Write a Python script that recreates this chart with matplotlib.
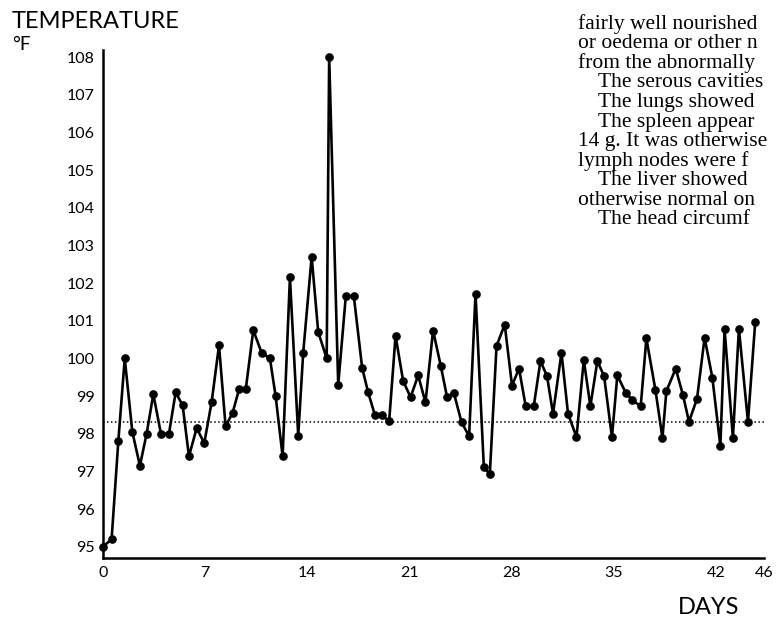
import matplotlib
matplotlib.use("Agg")
import matplotlib.pyplot as plt

# --- data ---
days = [0.0, 0.59, 1.05, 1.49, 2.01, 2.53, 2.99, 3.45, 3.97, 4.52,
        4.98, 5.46, 5.89, 6.42, 6.94, 7.45, 7.95, 8.40, 8.88, 9.34,
        9.79, 10.30, 10.87, 11.44, 11.83, 12.31, 12.81, 13.38, 13.72, 14.30,
        14.75, 15.33, 15.50, 16.12, 16.64, 17.19, 17.76, 18.17, 18.63, 19.09,
        19.61, 20.05, 20.57, 21.08, 21.60, 22.10, 22.62, 23.15, 23.58, 24.04,
        24.57, 25.09, 25.53, 26.10, 26.51, 26.97, 27.53, 28.03, 28.51, 28.97,
        29.52, 29.98, 30.43, 30.84, 31.42, 31.87, 32.45, 32.95, 33.40, 33.88,
        34.34, 34.88, 35.25, 35.82, 36.28, 36.85, 37.24, 37.86, 38.34, 38.61,
        39.25, 39.75, 40.16, 40.71, 41.23, 41.76, 42.31, 42.60, 43.17, 43.58,
        44.20, 44.70]
temps = [95.0, 95.2, 97.8, 100.0, 98.05, 97.15, 98.0, 99.05, 98.0, 98.0,
         99.1, 98.75, 97.4, 98.15, 97.75, 98.85, 100.35, 98.2, 98.55, 99.2,
         99.2, 100.75, 100.15, 100.0, 99.0, 97.4, 102.15, 97.95, 100.15, 102.7,
         100.7, 100.0, 108.0, 99.3, 101.65, 101.65, 99.75, 99.1, 98.5, 98.5,
         98.33, 100.6, 99.4, 98.97, 99.55, 98.83, 100.74, 99.8, 98.97, 99.09,
         98.31, 97.93, 101.72, 97.11, 96.93, 100.33, 100.9, 99.28, 99.73, 98.73,
         98.73, 99.93, 99.53, 98.53, 100.15, 98.53, 97.91, 99.96, 98.73, 99.93,
         99.53, 97.91, 99.55, 99.09, 98.89, 98.73, 100.53, 99.16, 97.89, 99.13,
         99.73, 99.02, 98.32, 98.93, 100.55, 99.49, 97.67, 100.77, 97.89, 100.79,
         98.32, 100.97]
normal_temp = 98.3
y_ticks = [95, 96, 97, 98, 99, 100, 101, 102, 103, 104, 105, 106, 107, 108]
x_ticks = [0, 7, 14, 21, 28, 35, 42, 45.3]
x_tick_labels = ["0", "7", "14", "21", "28", "35", "42", "46"]

side_text = [
    ("fairly well nourished", 0),
    ("or oedema or other n", 0),
    ("from the abnormally", 0),
    ("The serous cavities", 1),
    ("The lungs showed", 1),
    ("The spleen appear", 1),
    ("14 g. It was otherwise", 0),
    ("lymph nodes were f", 0),
    ("The liver showed", 1),
    ("otherwise normal on", 0),
    ("The head circumf", 1),
]

W, H = 776, 617
fig = plt.figure(figsize=(W / 100, H / 100), dpi=100)
ax = fig.add_axes([103 / W, 1 - 558 / H, (764 - 103) / W, (558 - 50) / H])

ax.plot(days, temps, color="black", lw=1.9, marker="o", markersize=5.2,
        markerfacecolor="black", markeredgecolor="black", clip_on=False, zorder=3)
ax.axhline(normal_temp, color="black", lw=1.1, linestyle=(0, (1, 1.6)), zorder=2)

ax.set_xlim(0, 45.3)
ax.set_ylim(94.7, 108.19)
ax.set_yticks(y_ticks)
ax.set_yticklabels([str(v) for v in y_ticks])
ax.set_xticks(x_ticks)
ax.set_xticklabels(x_tick_labels)
ax.tick_params(axis="both", length=0, labelsize=11.5)
ax.tick_params(axis="y", pad=6)
ax.tick_params(axis="x", pad=6)
for lab in ax.get_xticklabels() + ax.get_yticklabels():
    lab.set_family("Lato")
for s in ["top", "right"]:
    ax.spines[s].set_visible(False)
for s in ["left", "bottom"]:
    ax.spines[s].set_linewidth(1.8)
    ax.spines[s].set_color("black")

fig.text(12 / W, 1 - 21 / H, "TEMPERATURE", family="Lato", fontsize=17,
         ha="left", va="center")
fig.text(12 / W, 1 - 45 / H, "°F", family="Lato", fontsize=13.5, ha="left", va="center")
fig.text(709 / W, 1 - 607 / H, "DAYS", family="Lato", fontsize=17,
         ha="center", va="center")

for i, (line, indent) in enumerate(side_text):
    y = 24 + i * 19.6
    fig.text((578 + 20 * indent) / W, 1 - y / H, line, family="Liberation Serif",
             fontsize=15.5, ha="left", va="center")

fig.savefig("out.png", dpi=100)
